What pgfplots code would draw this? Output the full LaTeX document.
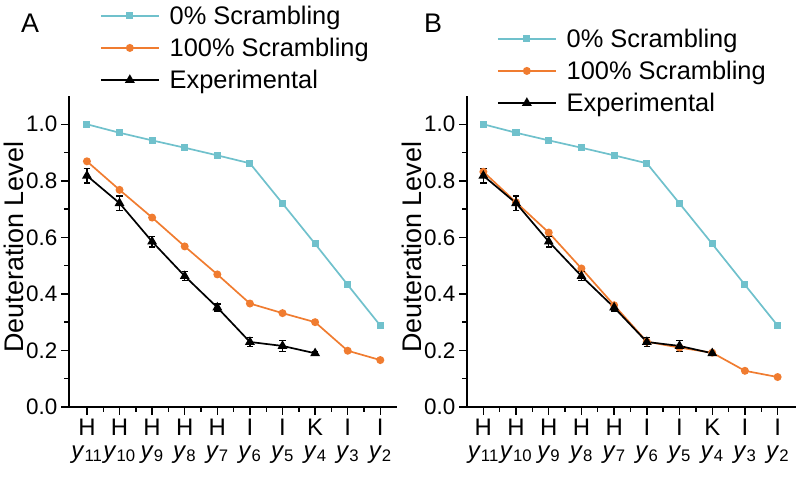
\documentclass[border=0pt]{standalone}
\usepackage{pgfplots}
\pgfplotsset{compat=1.18}
\usepackage{fontspec}
\setmainfont{Liberation Sans}
\definecolor{cyanc}{RGB}{112,193,204}
\definecolor{orangec}{RGB}{240,124,48}
\pgfplotsset{
  panel/.style={
    scale only axis,
    height=311bp,
    ymin=0, ymax=1.1,
    axis x line=bottom, axis y line=left,
    axis line style={-, line width=1.6bp, black},
    every tick/.style={black, line width=1.4bp},
    tick align=outside,
    major tick length=8bp, minor tick length=5bp,
    xtick={0,...,9}, minor x tick num=1,
    ytick={0,0.2,...,1.0}, minor y tick num=1,
    xticklabels={{H\\\textit{y}\textsubscript{11}},{H\\\textit{y}\textsubscript{10}},{H\\\textit{y}\textsubscript{9}},{H\\\textit{y}\textsubscript{8}},{H\\\textit{y}\textsubscript{7}},{I\\\textit{y}\textsubscript{6}},{I\\\textit{y}\textsubscript{5}},{K\\\textit{y}\textsubscript{4}},{I\\\textit{y}\textsubscript{3}},{I\\\textit{y}\textsubscript{2}}},
    xticklabel style={font=\fontsize{24}{23}\selectfont, align=center, inner sep=3.5bp},
    yticklabel style={font=\fontsize{22.5}{24}\selectfont, inner sep=3.5bp, /pgf/number format/fixed, /pgf/number format/fixed zerofill, /pgf/number format/precision=1},
    /pgf/number format/assume math mode=true,
    ylabel={Deuteration Level},
    ylabel style={font=\fontsize{27}{30}\selectfont, at={(axis description cs:-0.168,0.514)}, anchor=center},
    legend style={draw=none, fill=none, inner sep=0pt, outer sep=0pt, anchor=north west,
      font=\fontsize{25.5}{30}\selectfont, row sep=7.5bp, column sep=10bp,
      nodes={inner sep=0pt, text height=18.5bp, text depth=6bp, anchor=base west}},
    legend cell align=left,
    legend image code/.code={\draw[mark repeat=2,mark phase=2,#1,yshift=9bp] plot coordinates {(0bp,0bp) (29bp,0bp) (58bp,0bp)};},
  },
  s0/.style={color=cyanc, line width=1.7bp, mark=square*, mark size=2.7bp, mark options={solid}},
  s1/.style={color=orangec, line width=1.7bp, mark=*, mark size=3.1bp},
  sx/.style={color=black, line width=1.7bp, mark=triangle*, mark size=4bp,
    error bars/.cd, y dir=both, y explicit, error bar style={line width=1.4bp},
    error mark options={rotate=90, mark size=3.2bp, line width=1.4bp}},
}
\begin{document}
\begin{tikzpicture}
\path[use as bounding box] (0,0) rectangle (800bp,479bp);
\begin{axis}[panel, at={(69bp,72bp)}, anchor=south west, width=327.6bp, xmin=-0.55, xmax=9.5,
  legend style={at={(axis description cs:0.0946,1.288)}}]
\addplot[s0] coordinates {(0,1.000) (1,0.970) (2,0.943) (3,0.917) (4,0.890) (5,0.862) (6,0.720) (7,0.577) (8,0.432) (9,0.288)};
\addlegendentry{0\% Scrambling}
\addplot[s1] coordinates {(0,0.869) (1,0.768) (2,0.670) (3,0.568) (4,0.469) (5,0.366) (6,0.332) (7,0.300) (8,0.199) (9,0.166)};
\addlegendentry{100\% Scrambling}
\addplot[sx] coordinates {(0,0.818) +- (0,0.026) (1,0.721) +- (0,0.025) (2,0.585) +- (0,0.019) (3,0.463) +- (0,0.016) (4,0.352) +- (0,0.013) (5,0.230) +- (0,0.015) (6,0.216) +- (0,0.019) (7,0.190) +- (0,0.006)};
\addlegendentry{Experimental}
\end{axis}
\begin{axis}[panel, at={(467bp,72bp)}, anchor=south west, width=328.6bp, xmin=-0.5, xmax=9.55,
  legend style={at={(axis description cs:0.0913,1.214)}}]
\addplot[s0] coordinates {(0,1.000) (1,0.970) (2,0.943) (3,0.917) (4,0.890) (5,0.862) (6,0.720) (7,0.577) (8,0.432) (9,0.288)};
\addlegendentry{0\% Scrambling}
\addplot[s1] coordinates {(0,0.832) (1,0.724) (2,0.617) (3,0.490) (4,0.360) (5,0.231) (6,0.210) (7,0.192) (8,0.128) (9,0.106)};
\addlegendentry{100\% Scrambling}
\addplot[sx] coordinates {(0,0.818) +- (0,0.026) (1,0.721) +- (0,0.025) (2,0.585) +- (0,0.019) (3,0.463) +- (0,0.016) (4,0.352) +- (0,0.013) (5,0.230) +- (0,0.015) (6,0.216) +- (0,0.019) (7,0.190) +- (0,0.006)};
\addlegendentry{Experimental}
\end{axis}
\node[font=\fontsize{27}{30}\selectfont, anchor=base west, inner sep=0pt] at (21bp,446bp) {A};
\node[font=\fontsize{27}{30}\selectfont, anchor=base west, inner sep=0pt] at (424bp,446bp) {B};
\end{tikzpicture}
\end{document}
